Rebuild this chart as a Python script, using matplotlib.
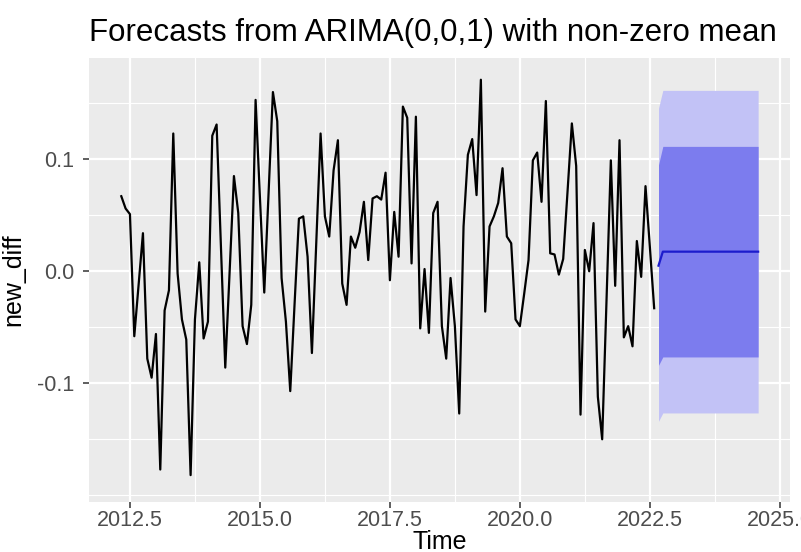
import numpy as np
import matplotlib
matplotlib.use("Agg")
import matplotlib.pyplot as plt
from matplotlib.ticker import MultipleLocator

plt.rcParams['font.family'] = ['Liberation Sans', 'DejaVu Sans']

# serie mensual desde mayo 2012
inicio = 2012 + 4/12
new_diff = [0.067, 0.056, 0.051, -0.058, -0.012, 0.034, -0.078, -0.095, -0.056, -0.177,
            -0.035, -0.017, 0.123, -0.002, -0.043, -0.061, -0.182, -0.043, 0.008, -0.060,
            -0.045, 0.121, 0.131, 0.022, -0.086, -0.001, 0.085, 0.052, -0.049, -0.065,
            -0.030, 0.153, 0.066, -0.019, 0.070, 0.160, 0.134, -0.006, -0.045, -0.107,
            -0.029, 0.047, 0.049, 0.013, -0.073, 0.025, 0.123, 0.049, 0.031, 0.090,
            0.117, -0.011, -0.030, 0.031, 0.021, 0.035, 0.062, 0.010, 0.065, 0.067,
            0.064, 0.088, -0.008, 0.053, 0.013, 0.147, 0.137, 0.007, 0.138, -0.051,
            0.002, -0.055, 0.052, 0.062, -0.049, -0.078, -0.006, -0.049, -0.127, 0.040,
            0.104, 0.118, 0.068, 0.171, -0.036, 0.040, 0.049, 0.061, 0.092, 0.031,
            0.025, -0.043, -0.049, -0.020, 0.010, 0.099, 0.106, 0.062, 0.152, 0.016,
            0.015, -0.003, 0.011, 0.071, 0.132, 0.094, -0.128, 0.019, 0.000, 0.043,
            -0.112, -0.150, -0.026, 0.099, -0.013, 0.117, -0.059, -0.049, -0.067, 0.027,
            -0.005, 0.076, 0.022, -0.033]

# pronostico h=24
media = [0.005, 0.0175, 0.0175, 0.0175, 0.0175, 0.0175, 0.0175, 0.0175, 0.0175, 0.0175, 0.0175, 0.0175,
         0.0175, 0.0175, 0.0175, 0.0175, 0.0175, 0.0175, 0.0175, 0.0175, 0.0175, 0.0175, 0.0175, 0.0175]
lo80 = [-0.084, -0.0765, -0.0765, -0.0765, -0.0765, -0.0765, -0.0765, -0.0765, -0.0765, -0.0765, -0.0765, -0.0765,
        -0.0765, -0.0765, -0.0765, -0.0765, -0.0765, -0.0765, -0.0765, -0.0765, -0.0765, -0.0765, -0.0765, -0.0765]
hi80 = [0.095, 0.1115, 0.1115, 0.1115, 0.1115, 0.1115, 0.1115, 0.1115, 0.1115, 0.1115, 0.1115, 0.1115,
        0.1115, 0.1115, 0.1115, 0.1115, 0.1115, 0.1115, 0.1115, 0.1115, 0.1115, 0.1115, 0.1115, 0.1115]
lo95 = [-0.134, -0.1265, -0.1265, -0.1265, -0.1265, -0.1265, -0.1265, -0.1265, -0.1265, -0.1265, -0.1265, -0.1265,
        -0.1265, -0.1265, -0.1265, -0.1265, -0.1265, -0.1265, -0.1265, -0.1265, -0.1265, -0.1265, -0.1265, -0.1265]
hi95 = [0.1455, 0.1615, 0.1615, 0.1615, 0.1615, 0.1615, 0.1615, 0.1615, 0.1615, 0.1615, 0.1615, 0.1615,
        0.1615, 0.1615, 0.1615, 0.1615, 0.1615, 0.1615, 0.1615, 0.1615, 0.1615, 0.1615, 0.1615, 0.1615]

xticks = [2012.5, 2015.0, 2017.5, 2020.0, 2022.5, 2025.0]
xlabels = ["2012.5", "2015.0", "2017.5", "2020.0", "2022.5", "2025.0"]
yticks = [-0.1, 0.0, 0.1]
ylabels = ["-0.1", "0.0", "0.1"]

t = inicio + np.arange(len(new_diff)) / 12
tf = t[-1] + (np.arange(len(media)) + 1) / 12

W, H = 801, 552
fig = plt.figure(figsize=(W/100, H/100), dpi=100)
izq, der, arr, aba = 89.4, 790, 58, 502
ax = fig.add_axes([izq/W, 1 - aba/H, (der-izq)/W, (aba-arr)/H])
ax.set_facecolor("#EBEBEB")
for s in ax.spines.values():
    s.set_visible(False)

ax.set_xlim(2011.72, 2025.196)
ax.set_ylim(-0.206, 0.1904)
ax.set_xticks(xticks)
ax.set_xticklabels(xlabels)
ax.set_yticks(yticks)
ax.set_yticklabels(ylabels)
ax.xaxis.set_minor_locator(MultipleLocator(1.25))
ax.yaxis.set_minor_locator(MultipleLocator(0.05))
ax.grid(which="major", color="white", lw=1.6)
ax.grid(which="minor", color="white", lw=0.8)
ax.set_axisbelow(True)
ax.tick_params(which="major", colors="#333333", length=4, width=1.1, labelsize=15.5,
               labelcolor="#4D4D4D")
ax.tick_params(axis="x", pad=2)
ax.tick_params(axis="y", pad=7)
ax.tick_params(which="minor", length=0)

ax.plot(t, new_diff, color="black", lw=1.6, zorder=3)
ax.fill_between(tf, lo95, hi95, color="#C2C2F6", lw=0, zorder=2)
ax.fill_between(tf, lo80, hi80, color="#7C7CEE", lw=0, zorder=2.1)
ax.plot(tf, media, color="#1C1CCC", lw=1.6, zorder=3)

ax.set_xlabel("Time", fontsize=18, labelpad=-1)
ax.set_ylabel("new_diff", fontsize=18, labelpad=8)
ax.set_title("Forecasts from ARIMA(0,0,1) with non-zero mean", fontsize=22.5, loc="left", pad=12)

fig.savefig("out.png", dpi=100)
